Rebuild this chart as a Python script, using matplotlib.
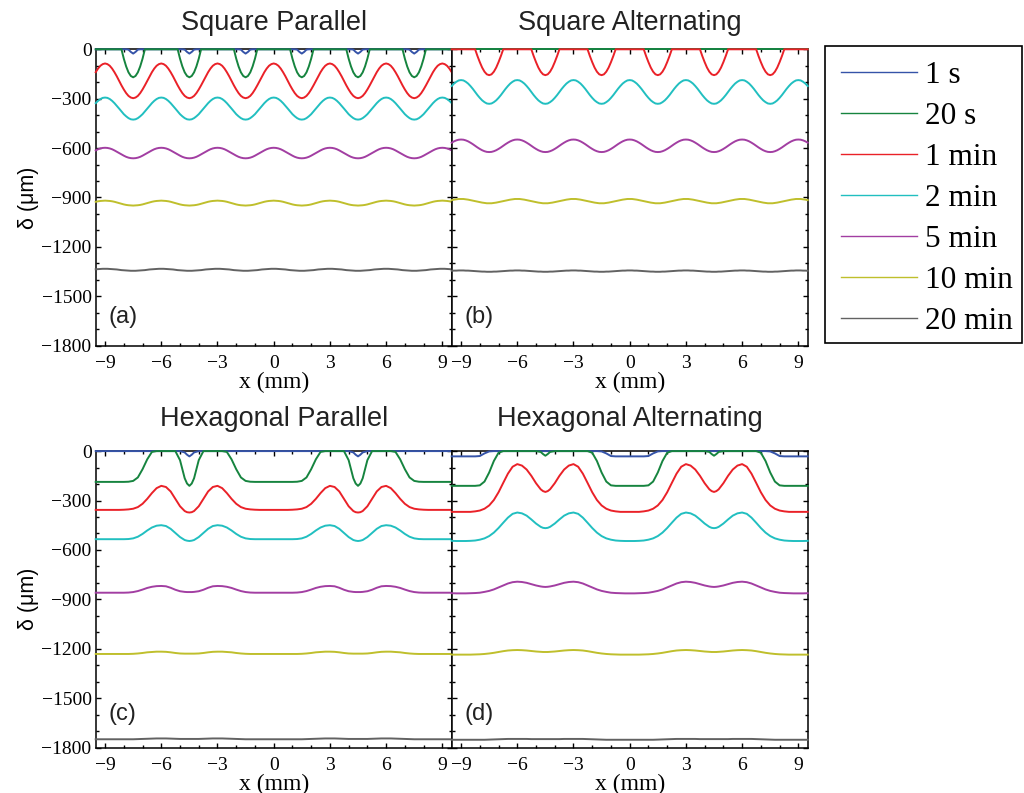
import numpy as np
import matplotlib
matplotlib.use("Agg")
import matplotlib.pyplot as plt
from matplotlib.lines import Line2D
from matplotlib.patches import Rectangle
from matplotlib.ticker import MultipleLocator

plt.rcParams['font.family'] = ['Liberation Serif', 'DejaVu Serif']
plt.rcParams['axes.unicode_minus'] = True

labels = ["1 s", "20 s", "1 min", "2 min", "5 min", "10 min", "20 min"]
colors = ["#3553a8", "#16843f", "#ea2128", "#21bfc0", "#a23ea2", "#bfbf2c", "#626262"]

# square arrays: half a period (3 mm pitch), x = distance from a crest in mm
sq_x = [0, 0.125, 0.25, 0.375, 0.5, 0.625, 0.75, 0.875, 1.0, 1.125, 1.25, 1.375, 1.5]
sq_par = [
    [0, 0, 0, 0, 0, 0, 0, 0, 0, 0, -2, -16, -26],                                    # 1 s
    [0, 0, 0, 0, 0, 0, 0, 0, -57, -104, -140, -162, -170],                            # 20 s
    [-86, -90, -100, -117, -139, -164, -192, -219, -244, -266, -283, -293, -297],     # 1 min
    [-293, -295, -302, -313, -327, -343, -360, -377, -394, -407, -418, -425, -427],   # 2 min
    [-598, -599, -602, -607, -614, -622, -630, -638, -646, -653, -658, -661, -662],   # 5 min
    [-919, -920, -921, -923, -926, -930, -934, -938, -942, -945, -947, -948, -949],   # 10 min
    [-1333, -1333, -1334, -1335, -1336, -1337, -1339, -1341, -1342, -1343, -1344, -1345, -1345],
]
sq_alt = [
    [0, 0, 0, 0, 0, 0, 0, 0, 0, 0, 0, 0, 0],
    [0, 0, 0, 0, 0, 0, 0, 0, 0, 0, 0, 0, 0],
    [0, 0, 0, 0, 0, 0, 0, -41, -78, -111, -136, -152, -157],
    [-187, -189, -197, -208, -223, -240, -259, -278, -295, -310, -321, -329, -331],
    [-548, -549, -553, -559, -567, -576, -586, -596, -605, -613, -619, -623, -624],
    [-909, -909, -911, -913, -916, -919, -922, -925, -928, -931, -933, -935, -935],
    [-1343, -1343, -1344, -1344, -1345, -1346, -1347, -1348, -1349, -1350, -1350, -1351, -1351],
]

# hexagonal arrays: half a period (9 mm), x from the centre to the dip at 4.5 mm
hex_x = [0, 0.25, 0.5, 0.75, 1.0, 1.25, 1.5, 1.75, 2.0, 2.25, 2.5, 2.75, 3.0, 3.25,
         3.5, 3.75, 4.0, 4.25, 4.375, 4.5]
hex_par = [
    [0, 0, 0, 0, 0, 0, 0, 0, 0, 0, 0, 0, 0, 0, 0, 0, 0, -8, -22, -32],
    [-187, -187, -187, -187, -187, -186, -181, -160, -110, -50, -5, 0, 0, 0, 0, 0,
     -55, -165, -197, -211],
    [-357, -357, -357, -357, -356, -354, -350, -340, -320, -290, -255, -225, -211, -218,
     -245, -290, -335, -364, -371, -373],
    [-535, -535, -535, -535, -535, -534, -530, -520, -503, -482, -464, -453, -450, -455,
     -472, -497, -522, -540, -544, -546],
    [-860, -860, -860, -860, -860, -859, -856, -850, -841, -831, -824, -820, -819, -821,
     -830, -842, -851, -855, -856, -856],
    [-1232, -1232, -1232, -1232, -1232, -1232, -1231, -1229, -1226, -1222, -1220, -1218,
     -1218, -1219, -1222, -1226, -1229, -1230, -1230, -1230],
    [-1750, -1750, -1750, -1750, -1750, -1750, -1750, -1749, -1748, -1747, -1746, -1745,
     -1745, -1745, -1746, -1747, -1748, -1748, -1748, -1748],
]
hex_alt = [
    [-32, -32, -32, -32, -30, -14, -2, 0, 0, 0, 0, 0, 0, 0, 0, 0, 0, 0, 0, 0],
    [-211, -211, -211, -211, -208, -185, -130, -60, -10, 0, 0, 0, 0, 0, 0, 0, 0,
     -5, -18, -28],
    [-369, -369, -369, -366, -361, -350, -330, -297, -250, -193, -137, -95, -79, -88,
     -112, -150, -195, -232, -243, -248],
    [-546, -546, -545, -543, -538, -530, -516, -495, -467, -435, -404, -381, -373, -378,
     -392, -415, -440, -460, -466, -468],
    [-864, -864, -863, -862, -860, -855, -849, -840, -828, -816, -804, -796, -793, -795,
     -800, -808, -816, -822, -824, -825],
    [-1236, -1236, -1236, -1235, -1234, -1232, -1229, -1225, -1220, -1215, -1211, -1209,
     -1208, -1209, -1211, -1214, -1217, -1219, -1220, -1220],
    [-1753, -1753, -1753, -1753, -1753, -1753, -1752, -1751, -1750, -1749, -1748, -1748,
     -1748, -1748, -1748, -1749, -1749, -1749, -1749, -1749],
]

titles = ["Square Parallel", "Square Alternating", "Hexagonal Parallel", "Hexagonal Alternating"]
tags = ["(a)", "(b)", "(c)", "(d)"]
XLIM = 9.5


def unfold(xh, yh, nper):
    # mirror the half period and repeat it across the plate
    xh = np.asarray(xh, float)
    yh = np.asarray(yh, float)
    p = 2 * xh[-1]
    xp = np.concatenate([xh, p - xh[-2::-1]])[:-1]
    yp = np.concatenate([yh, yh[-2::-1]])[:-1]
    ks = range(-nper, nper)
    x = np.concatenate([xp + k * p for k in ks] + [[nper * p]])
    y = np.concatenate([yp for k in ks] + [[yh[0]]])
    m = np.abs(x) <= XLIM + 1e-9
    return x[m], y[m]


fig = plt.figure(figsize=(10.24, 7.93), dpi=100)
W, H = 1024.0, 793.0
boxes = [
    [95.7 / W, 1 - 345.7 / H, 356 / W, 296.4 / H],
    [451.7 / W, 1 - 345.7 / H, 356 / W, 296.4 / H],
    [95.7 / W, 1 - 747.5 / H, 356 / W, 296.4 / H],
    [451.7 / W, 1 - 747.5 / H, 356 / W, 296.4 / H],
]
panels = [(sq_x, sq_par, 4), (sq_x, sq_alt, 4), (hex_x, hex_par, 2), (hex_x, hex_alt, 2)]
title_pads = [13.9, 13.9, 18, 18]
tag_y = [0.097, 0.097, 0.113, 0.113]

for i in range(4):
    ax = fig.add_axes(boxes[i])
    xh, series, nper = panels[i]
    for j in range(7):
        x, y = unfold(xh, series[j], nper)
        ax.plot(x, y, color=colors[j], lw=1.4, clip_on=False, zorder=3)
    ax.set_xlim(-XLIM, XLIM)
    ax.set_ylim(-1800, 0)
    ax.set_xticks([-9, -6, -3, 0, 3, 6, 9])
    ax.set_yticks(np.arange(-1800, 1, 300))
    ax.xaxis.set_minor_locator(MultipleLocator(1))
    ax.yaxis.set_minor_locator(MultipleLocator(100))
    ax.tick_params(which='both', direction='in', top=True, right=True, width=1.0)
    ax.tick_params(which='major', length=3.5, labelsize=14)
    ax.tick_params(axis='x', which='major', pad=6.5)
    ax.tick_params(axis='y', which='major', pad=3)
    ax.tick_params(which='minor', length=2)
    for s in ax.spines.values():
        s.set_linewidth(1.1)
    if i % 2 == 1:
        ax.tick_params(labelleft=False)
    else:
        ax.set_ylabel("δ (μm)", family='Liberation Sans', fontsize=15.5, labelpad=2)
    ax.set_xlabel("x (mm)", fontsize=17, labelpad=0)
    ax.set_title(titles[i], family='Liberation Sans', fontsize=19.5, color='#222222',
                 pad=title_pads[i])
    ax.text(0.035, tag_y[i], tags[i], transform=ax.transAxes, family='Liberation Sans',
            fontsize=17, ha='left', va='center', color='#222222')

# legend box drawn separately so its edges sit where the reference has them
fig.patches.append(Rectangle((824.7 / W, 1 - 342.7 / H), (1022 - 824.7) / W, (342.7 - 46) / H,
                             transform=fig.transFigure, fill=False, edgecolor='black',
                             lw=1.2))
handles = [Line2D([], [], color=c, lw=1.0) for c in colors]
leg = fig.legend(handles, labels, loc='center left',
                 bbox_to_anchor=(840.7 / W, 1 - 198.5 / H),
                 borderaxespad=0, borderpad=0, frameon=False,
                 prop={'family': 'Liberation Serif', 'size': 22.5},
                 handlelength=2.43, handletextpad=0.27, labelspacing=0.38)

fig.savefig("out.png", dpi=100)
